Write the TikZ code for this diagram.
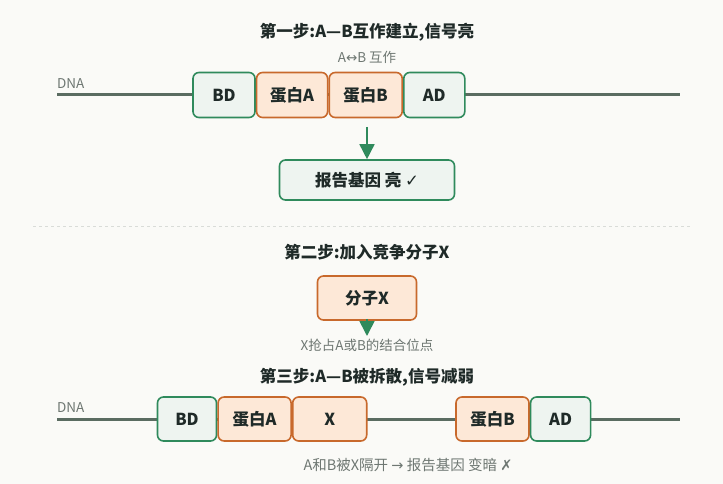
\documentclass[tikz,border=0pt]{standalone}
\usepackage{fontspec}
\setmainfont{Noto Sans CJK SC}
\newfontfamily\symfont{DejaVu Sans}
\usetikzlibrary{positioning,arrows.meta}
\definecolor{bgc}{HTML}{FAFAF7}
\definecolor{gbord}{HTML}{2F8A5C}
\definecolor{gfill}{HTML}{EEF4F0}
\definecolor{obord}{HTML}{C8692C}
\definecolor{ofill}{HTML}{FDE8D7}
\definecolor{dnac}{HTML}{5A6C61}
\definecolor{ink}{HTML}{1F2A28}
\definecolor{notec}{HTML}{6E7772}
\definecolor{sepc}{HTML}{D9DCD8}

\begin{document}
\begin{tikzpicture}[x=1pt,y=-1pt,
dom/.style={draw=gbord, fill=gfill, line width=1.6pt, rounded corners=6pt, minimum height=45pt, inner sep=0pt, text=ink, font=\bfseries\fontsize{16.5}{19}\selectfont},
prot/.style={dom, draw=obord, fill=ofill},
title/.style={text=ink, font=\bfseries\fontsize{16.5}{19}\selectfont},
note/.style={text=notec, font=\fontsize{13.5}{16}\selectfont},
dna/.style={draw=dnac, line width=3pt},
signal/.style={draw=gbord, line width=1.6pt, -{Triangle[length=15pt,width=15pt]}}]

\useasboundingbox[fill=bgc] (0,0) rectangle (723,484);

% step 1
\node[title] (title1) at (367,32) {第一步:A—B互作建立,信号亮};
\node[note] (hint1) at (367,57) {A{\symfont ↔}B 互作};
\coordinate (dna1l) at (57,95);
\coordinate (dna1r) at (680,95);
\draw[dna] (dna1l) -- (dna1r);
\node[note, anchor=south west, inner sep=0pt] (dnalab1) at (57,89) {DNA};
\node[dom, minimum width=62pt] (bd1) at (224,95) {BD};
\node[prot, minimum width=71pt, right=0pt of bd1] (pa1) {蛋白A};
\node[prot, minimum width=73pt, right=0pt of pa1] (pb1) {蛋白B};
\node[dom, minimum width=61pt, right=0pt of pb1] (ad1) {AD};
\node[dom, minimum width=175pt, minimum height=40pt] (rep) at (367,180) {报告基因 亮 {\symfont ✓}};
\coordinate (sig) at (367,127);
\draw[signal] (sig) -- (rep.north);

\draw[sepc, dashed, line width=1pt] (33,226) -- (690,226);

% step 2
\node[title] (title2) at (367,252) {第二步:加入竞争分子X};
\node[prot, minimum width=99pt, minimum height=44pt] (molx) at (367,298) {分子X};
\coordinate (hit) at (367,336);
\draw[signal] ([yshift=2pt]molx.south) -- (hit);
\node[note] (hint2) at (367,345) {X抢占A或B的结合位点};

% step 3
\node[title] (title3) at (367,377) {第三步:A—B被拆散,信号减弱};
\coordinate (dna3l) at (57,419);
\coordinate (dna3r) at (680,419);
\draw[dna] (dna3l) -- (dna3r);
\node[note, anchor=south west, inner sep=0pt] (dnalab3) at (57,413) {DNA};
\node[dom, minimum width=59pt, minimum height=44pt] (bd3) at (187,419) {BD};
\node[prot, minimum width=73pt, minimum height=44pt, right=0pt of bd3] (pa3) {蛋白A};
\node[prot, minimum width=74pt, minimum height=44pt, right=0pt of pa3] (x3) {X};
\node[prot, minimum width=73pt, minimum height=44pt] (pb3) at (492.5,419) {蛋白B};
\node[dom, minimum width=60pt, minimum height=44pt, right=0pt of pb3] (ad3) {AD};
\node[note, font=\fontsize{14.5}{17}\selectfont] (hint3) at (408,465) {A和B被X隔开 {\symfont →} 报告基因 变暗 {\symfont ✗}};
\end{tikzpicture}
\end{document}
